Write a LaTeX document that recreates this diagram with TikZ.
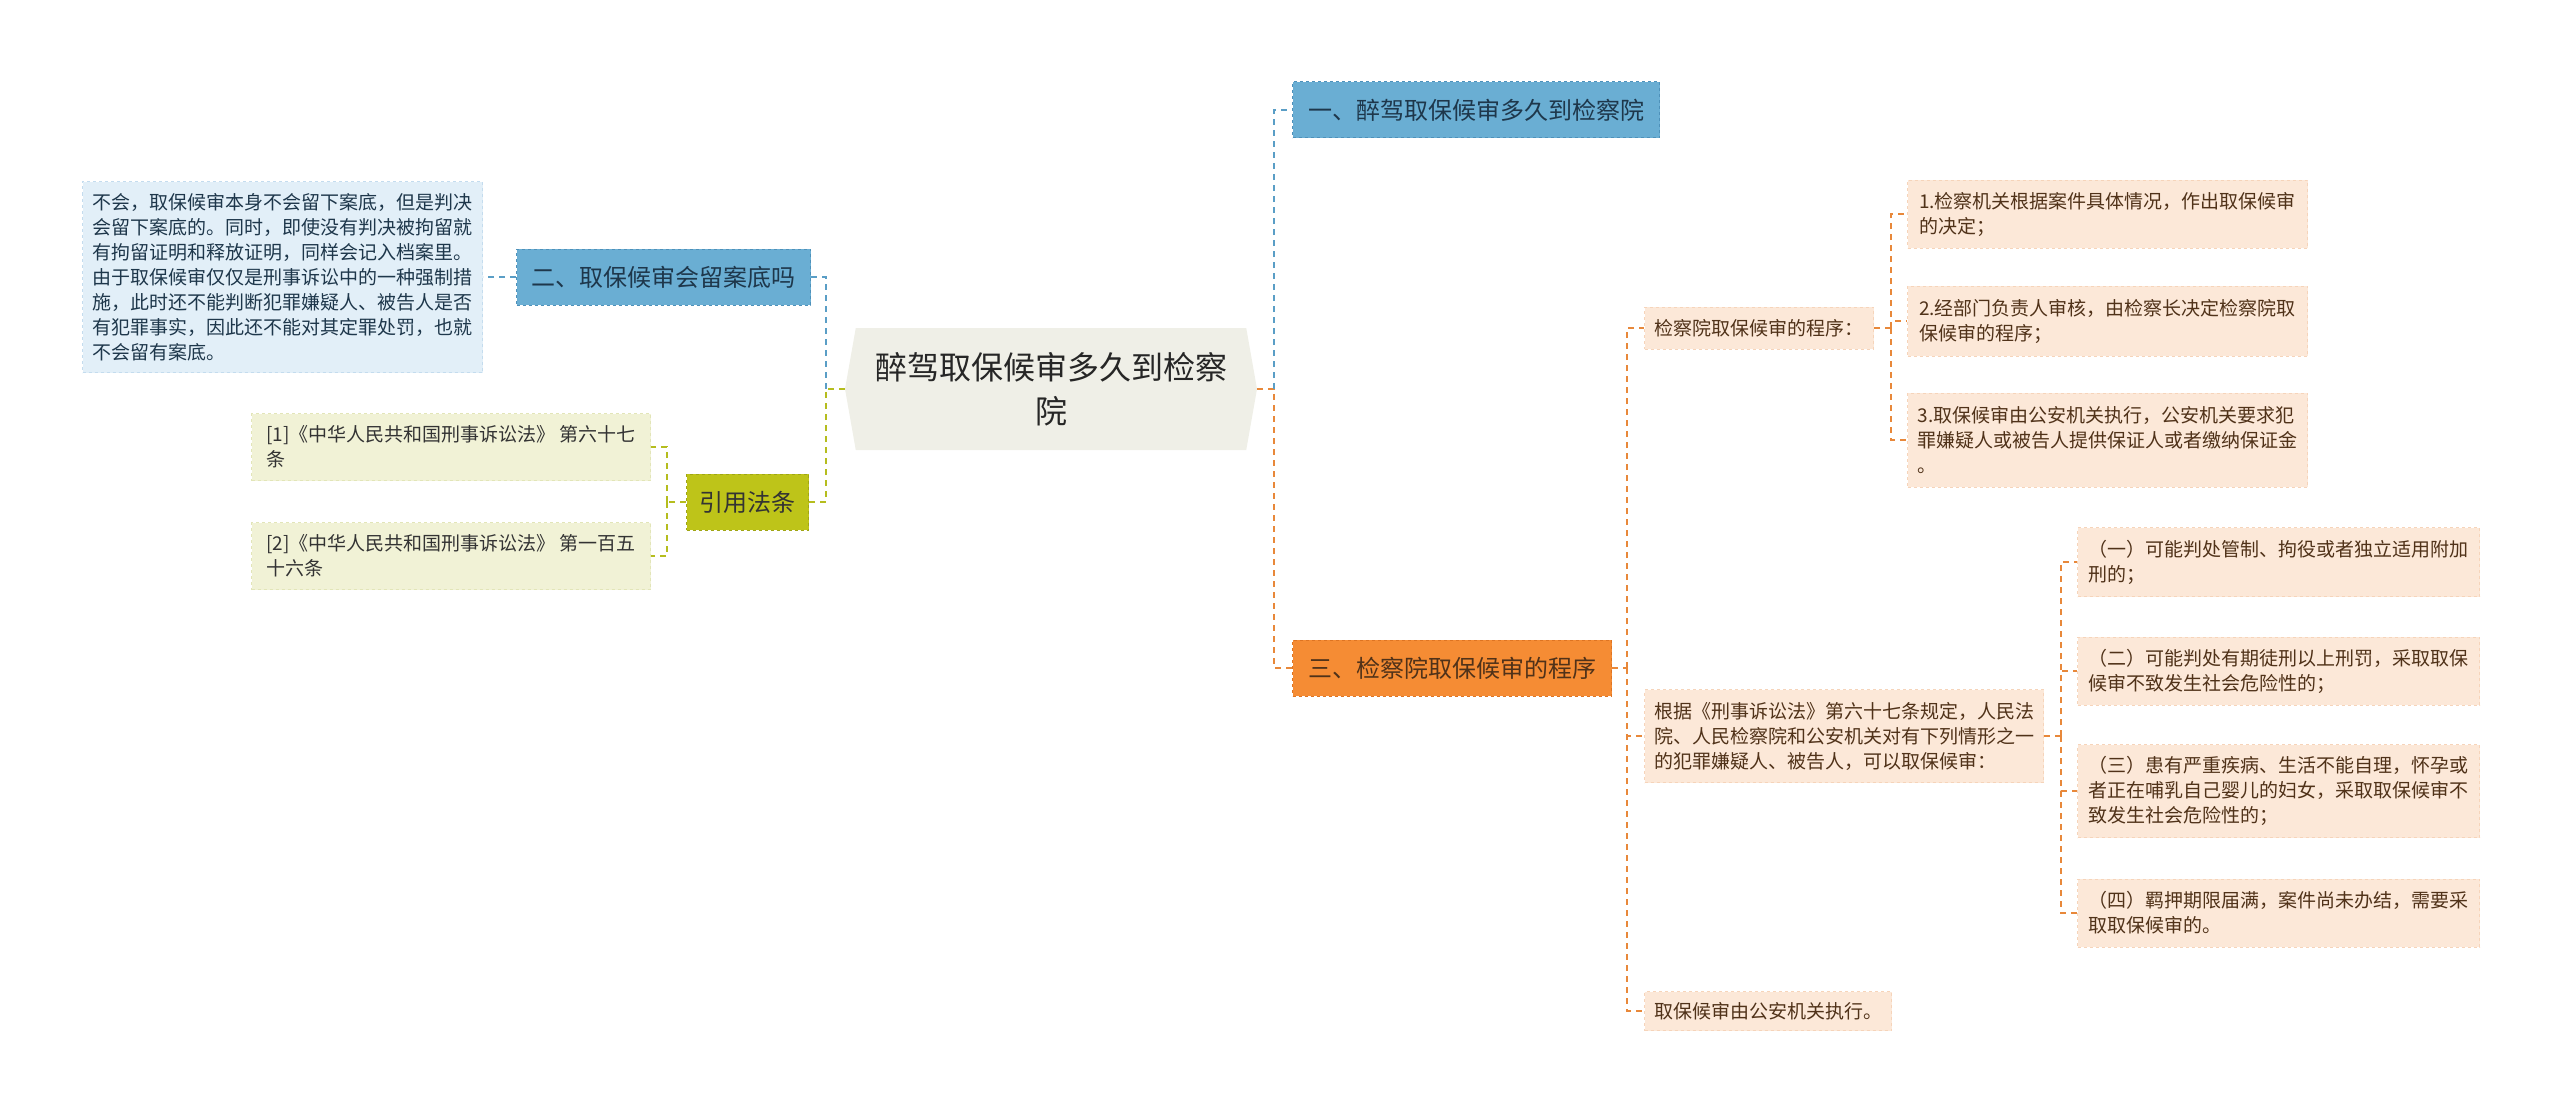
\documentclass[tikz,border=0pt]{standalone}
\usepackage{fontspec}
\setmainfont{Noto Sans CJK SC}
\usepackage{tikz}
\usetikzlibrary{
    shapes.symbols,
    positioning,
    calc
}
\definecolor{rootgray}{RGB}{239, 239, 231}
\definecolor{branchblue}{RGB}{106, 174, 211}
\definecolor{branchblueline}{RGB}{78, 145, 186}
\definecolor{noteblue}{RGB}{226, 239, 248}
\definecolor{notebluedash}{RGB}{196, 220, 238}
\definecolor{lawolive}{RGB}{190, 196, 25}
\definecolor{lawoliveline}{RGB}{160, 166, 20}
\definecolor{lawlight}{RGB}{241, 242, 214}
\definecolor{lawlightdash}{RGB}{226, 229, 184}
\definecolor{procorange}{RGB}{245, 140, 52}
\definecolor{procorangeline}{RGB}{222, 116, 34}
\definecolor{procpeach}{RGB}{252, 232, 216}
\definecolor{procpeachdash}{RGB}{246, 212, 186}
\definecolor{linkblue}{RGB}{90, 158, 198}
\definecolor{linkolive}{RGB}{181, 189, 30}
\definecolor{linkorange}{RGB}{232, 136, 58}
\definecolor{bluetext}{RGB}{30, 55, 75}
\definecolor{browntext}{RGB}{80, 50, 25}

\begin{document}
\begin{tikzpicture}[x=1pt, y=-1pt,
    rootbox/.style={shape=signal, signal to=west and east, signal pointer angle=160,
        fill=rootgray, text=black!85, align=center, inner sep=0pt,
        font=\fontsize{32}{44}\selectfont, minimum width=412pt, minimum height=122pt},
    headbox/.style={draw, dashed, line width=1pt, anchor=west, align=left, inner xsep=12pt,
        font=\fontsize{24}{30}\selectfont, minimum height=56pt},
    smallbox/.style={draw, dashed, line width=1pt, anchor=west, align=left, inner xsep=8pt,
        font=\fontsize{19}{25}\selectfont},
    bluehead/.style={headbox, fill=branchblue, draw=branchblueline, text=bluetext},
    olivehead/.style={headbox, fill=lawolive, draw=lawoliveline, text=black!80},
    orangehead/.style={headbox, fill=procorange, draw=procorangeline, text=browntext},
    bluenote/.style={smallbox, fill=noteblue, draw=notebluedash, text=bluetext},
    olivenote/.style={smallbox, fill=lawlight, draw=lawlightdash, text=black!80},
    peachnote/.style={smallbox, fill=procpeach, draw=procpeachdash, text=browntext},
    link/.style={line width=1.8pt, dash pattern=on 6pt off 5pt},
    bluelink/.style={link, draw=linkblue},
    olivelink/.style={link, draw=linkolive},
    orangelink/.style={link, draw=linkorange}
]
    \useasboundingbox (0,0) rectangle (2560,1113);

    % Central node
    \node[rootbox] (root) at (1051,389) {醉驾取保候审多久到检察\\院};

    % Main branches
    \node[bluehead, minimum width=367pt] (first) at (1292,110) {一、醉驾取保候审多久到检察院};
    \node[bluehead, minimum width=294pt] (second) at (516,277) {二、取保候审会留案底吗};
    \node[olivehead, minimum width=122pt, inner xsep=6pt] (cite) at (686,502) {引用法条};
    \node[orangehead, minimum width=319pt] (third) at (1292,668) {三、检察院取保候审的程序};

    % Left side details
    \node[bluenote, minimum width=400pt, minimum height=191pt] (record) at (82,277) {不会，取保候审本身不会留下案底，但是判决\\会留下案底的。同时，即使没有判决被拘留就\\有拘留证明和释放证明，同样会记入档案里。\\由于取保候审仅仅是刑事诉讼中的一种强制措\\施，此时还不能判断犯罪嫌疑人、被告人是否\\有犯罪事实，因此还不能对其定罪处罚，也就\\不会留有案底。};
    \node[olivenote, minimum width=399pt, minimum height=67pt] (cite1) at (251,447) {[1]《中华人民共和国刑事诉讼法》 第六十七\\条};
    \node[olivenote, minimum width=399pt, minimum height=67pt] (cite2) at (251,556) {[2]《中华人民共和国刑事诉讼法》 第一百五\\十六条};

    % Right side details
    \node[peachnote, minimum width=229pt, minimum height=42pt] (procedure) at (1644,328) {检察院取保候审的程序：};
    \node[peachnote, minimum width=399pt, minimum height=93pt] (cases) at (1644,736) {根据《刑事诉讼法》第六十七条规定，人民法\\院、人民检察院和公安机关对有下列情形之一\\的犯罪嫌疑人、被告人，可以取保候审：};
    \node[peachnote, minimum width=247pt, minimum height=39pt] (police) at (1644,1011) {取保候审由公安机关执行。};

    \node[peachnote, minimum width=400pt, minimum height=68pt] (step1) at (1907,214) {1.检察机关根据案件具体情况，作出取保候审\\的决定；};
    \node[peachnote, minimum width=400pt, minimum height=70pt] (step2) at (1907,321) {2.经部门负责人审核，由检察长决定检察院取\\保候审的程序；};
    \node[peachnote, minimum width=400pt, minimum height=94pt] (step3) at (1907,440) {3.取保候审由公安机关执行，公安机关要求犯\\罪嫌疑人或被告人提供保证人或者缴纳保证金\\。};

    \node[peachnote, minimum width=402pt, minimum height=69pt, inner xsep=4pt] (case1) at (2077,562) {（一）可能判处管制、拘役或者独立适用附加\\刑的；};
    \node[peachnote, minimum width=402pt, minimum height=68pt, inner xsep=4pt] (case2) at (2077,671) {（二）可能判处有期徒刑以上刑罚，采取取保\\候审不致发生社会危险性的；};
    \node[peachnote, minimum width=402pt, minimum height=93pt, inner xsep=4pt] (case3) at (2077,791) {（三）患有严重疾病、生活不能自理，怀孕或\\者正在哺乳自己婴儿的妇女，采取取保候审不\\致发生社会危险性的；};
    \node[peachnote, minimum width=402pt, minimum height=68pt, inner xsep=4pt] (case4) at (2077,913) {（四）羁押期限届满，案件尚未办结，需要采\\取取保候审的。};

    % Split points
    \coordinate (leftsplit) at (826,389);
    \coordinate (rightsplit) at (1274,389);
    \coordinate (citesplit) at (667,502);
    \coordinate (thirdsplit) at (1627,668);
    \coordinate (procsplit) at (1891,328);
    \coordinate (casesplit) at (2061,736);

    % Connectors
    \draw[bluelink] (second.east) -| (leftsplit);
    \draw[olivelink] (cite.east) -| (leftsplit) -- (root.west);
    \draw[orangelink] (root.east) -- (rightsplit) |- (third.west);
    \draw[bluelink] (rightsplit) |- (first.west);

    \draw[bluelink] (second.west) -- (record.east);
    \draw[olivelink] (cite.west) -- (citesplit);
    \draw[olivelink] (citesplit) |- (cite1.east);
    \draw[olivelink] (citesplit) |- (cite2.east);

    \draw[orangelink] (third.east) -- (thirdsplit);
    \draw[orangelink] (thirdsplit) |- (procedure.west);
    \draw[orangelink] (thirdsplit) |- (cases.west);
    \draw[orangelink] (thirdsplit) |- (police.west);

    \draw[orangelink] (procedure.east) -- (procsplit);
    \draw[orangelink] (procsplit) |- (step1.west);
    \draw[orangelink] (procsplit) |- (step2.west);
    \draw[orangelink] (procsplit) |- (step3.west);

    \draw[orangelink] (cases.east) -- (casesplit);
    \draw[orangelink] (casesplit) |- (case1.west);
    \draw[orangelink] (casesplit) |- (case2.west);
    \draw[orangelink] (casesplit) |- (case3.west);
    \draw[orangelink] (casesplit) |- (case4.west);
\end{tikzpicture}
\end{document}
